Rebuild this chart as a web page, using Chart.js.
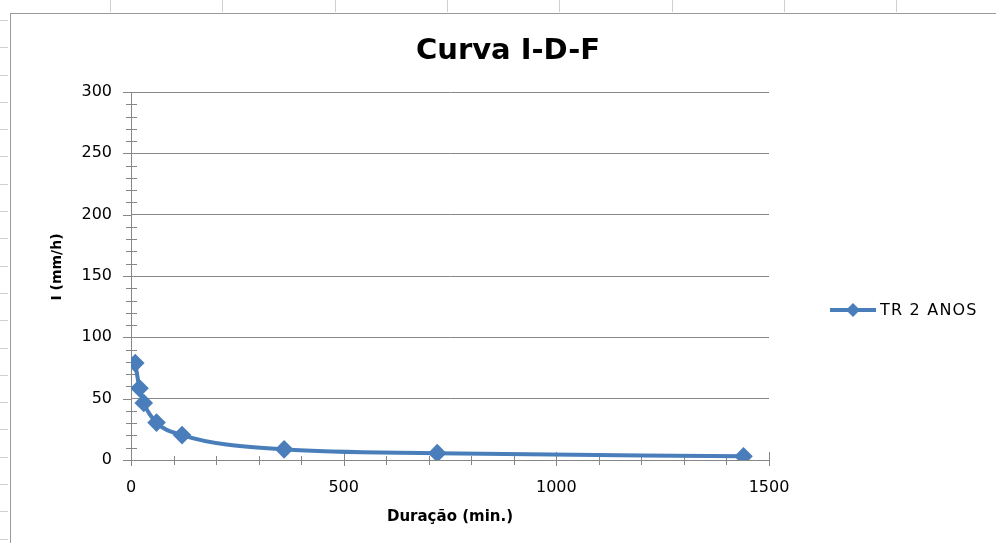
<!DOCTYPE html>
<html>
<head>
<meta charset="utf-8">
<script src="https://cdn.jsdelivr.net/npm/chart.js@4.4.0/dist/chart.umd.min.js"></script>
<style>
  html, body { margin: 0; padding: 0; background: #fff; overflow: hidden; }
  #wrap { position: relative; width: 996px; height: 543px; }
  #frame { position: absolute; left: 10px; top: 13px; width: 1000px; height: 600px; border-left: 1px solid #9a9a9a; border-top: 1px solid #9a9a9a; }
  #ltick { position: absolute; left: 0; top: 0; width: 8px; height: 543px;
    background: repeating-linear-gradient(to bottom, transparent 0px, transparent 20px, #d0d0d0 20px, #d0d0d0 21px, transparent 21px, transparent 27.3px); }
  #ttick { position: absolute; left: 0; top: 0; width: 996px; height: 12px;
    background: repeating-linear-gradient(to right, transparent 0px, transparent 110px, #d0d0d0 110px, #d0d0d0 111px, transparent 111px, transparent 112.3px); }
  canvas { position: absolute; left: 0; top: 0; }
</style>
</head>
<body>
<div id="wrap">
  <div id="ltick"></div>
  <div id="ttick"></div>
  <div id="frame"></div>
  <canvas id="c" width="996" height="543"></canvas>
</div>
<script>
// ---- data ----
const chartTitle = 'Curva I-D-F';
const seriesLabel = 'TR 2 ANOS';
const durations = [10, 20, 30, 60, 120, 360, 720, 1440];      // min
const intensities = [79, 58.5, 46.5, 30.5, 20.3, 8.7, 5.6, 3.0]; // mm/h
const xAxisTitle = 'Duração (min.)';
const yAxisTitle = 'I (mm/h)';
const xTickMax = 1500, xTickStep = 500, xMinorStep = 100;
const yTickMax = 300, yTickStep = 50, yMinorStep = 10;

const BLUE = '#4a7ebb';
const GRID = '#878787';
const FONT = "'DejaVu Sans', Verdana, sans-serif";

const points = durations.map((d, i) => ({ x: d, y: intensities[i] }));

const extrasPlugin = {
  id: 'extras',
  beforeDatasetsDraw(chart) {
    const ctx = chart.ctx;
    const xs = chart.scales.x, ys = chart.scales.y;
    const a = chart.chartArea;
    ctx.save();
    ctx.strokeStyle = GRID;
    ctx.lineWidth = 1;
    ctx.beginPath();
    for (let v = 0; v <= yTickMax; v += yMinorStep) {
      const py = Math.round(ys.getPixelForValue(v)) + 0.5;
      if (v % yTickStep === 0) { ctx.moveTo(a.left - 8, py); ctx.lineTo(a.left, py); }
      else { ctx.moveTo(a.left - 5, py); ctx.lineTo(a.left + 6, py); }
    }
    for (let v = 0; v <= xTickMax; v += xMinorStep) {
      const px = Math.round(xs.getPixelForValue(v)) + 0.5;
      if (v % xTickStep === 0) { ctx.moveTo(px, a.bottom - 8); ctx.lineTo(px, a.bottom + 6); }
      else { ctx.moveTo(px, a.bottom - 4); ctx.lineTo(px, a.bottom + 5); }
    }
    ctx.stroke();
    ctx.restore();
  },
  afterDraw(chart) {
    const ctx = chart.ctx;
    const a = chart.chartArea;
    ctx.save();
    // title
    ctx.fillStyle = '#000';
    ctx.font = "bold 29px " + FONT;
    ctx.textAlign = 'center';
    ctx.textBaseline = 'middle';
    ctx.fillText(chartTitle, 508, 51);
    // y axis title
    ctx.save();
    ctx.translate(57, 267);
    ctx.rotate(-Math.PI / 2);
    ctx.font = "bold 14px " + FONT;
    ctx.fillText(yAxisTitle, 0, 0);
    ctx.restore();
    // legend
    const ds = chart.data.datasets[0];
    const ly = 310;
    ctx.strokeStyle = ds.borderColor;
    ctx.lineWidth = 4;
    ctx.beginPath(); ctx.moveTo(830, ly); ctx.lineTo(876, ly); ctx.stroke();
    ctx.fillStyle = ds.pointBackgroundColor;
    ctx.beginPath();
    ctx.moveTo(853, ly - 7); ctx.lineTo(860, ly); ctx.lineTo(853, ly + 7); ctx.lineTo(846, ly);
    ctx.closePath(); ctx.fill();
    ctx.fillStyle = '#000';
    ctx.font = "16px " + FONT;
    ctx.textAlign = 'left';
    try { ctx.letterSpacing = '1.2px'; } catch (e) {}
    ctx.fillText(ds.label, 880, ly + 1);
    ctx.restore();
  }
};

new Chart(document.getElementById('c'), {
  type: 'line',
  data: {
    datasets: [{
      label: seriesLabel,
      data: points,
      borderColor: BLUE,
      backgroundColor: BLUE,
      pointBackgroundColor: BLUE,
      pointBorderColor: BLUE,
      borderWidth: 4,
      pointStyle: 'rectRot',
      pointRadius: 6.5,
      cubicInterpolationMode: 'monotone',
      fill: false
    }]
  },
  options: {
    responsive: false,
    animation: false,
    devicePixelRatio: 1,
    layout: { padding: { top: 92, right: 227, left: 0, bottom: 0 } },
    plugins: { legend: { display: false }, title: { display: false }, tooltip: { enabled: false } },
    scales: {
      x: {
        type: 'linear', min: 0, max: xTickMax,
        ticks: { stepSize: xTickStep, padding: 18, color: '#000', font: { family: FONT, size: 16 }, callback: v => String(v) },
        grid: { display: false, drawTicks: false },
        border: { display: true, color: GRID, width: 1 },
        title: { display: true, text: xAxisTitle, color: '#000', font: { family: FONT, size: 15, weight: 'bold' }, padding: { top: 0, bottom: 17 } },
        afterFit(s) { s.height = 83; }
      },
      y: {
        type: 'linear', min: 0, max: yTickMax,
        ticks: { stepSize: yTickStep, padding: 19, color: '#000', font: { family: FONT, size: 16 }, callback: v => String(v) },
        grid: { color: GRID, drawTicks: false, lineWidth: 1 },
        border: { display: true, color: GRID, width: 1 },
        title: { display: false },
        afterFit(s) { s.width = 131; }
      }
    }
  },
  plugins: [extrasPlugin]
});
</script>
</body>
</html>
